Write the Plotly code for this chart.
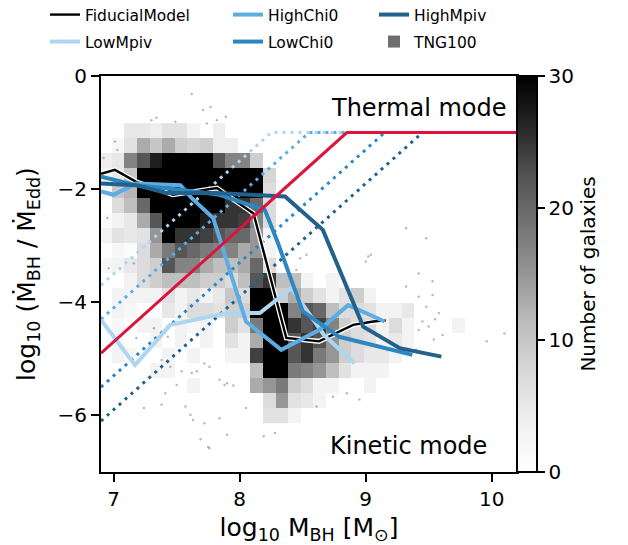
import plotly.graph_objects as go

# ---------------- data ----------------
hist_x = [round(6.935 + 0.1 * j, 3) for j in range(30)]
hist_y = [round(-0.9675 - 0.265 * r, 4) for r in range(20)]
hist_rows = [
    {2: 5, 3: 5, 4: 4, 5: 6, 6: 6, 7: 3, 9: 4},
    {1: 2, 2: 6, 3: 13, 4: 10, 5: 13, 6: 9, 7: 8, 8: 9, 9: 4, 10: 4},
    {0: 4, 1: 5, 2: 17, 3: 22, 4: 27, 5: 32, 6: 35, 7: 35, 8: 32, 9: 22, 10: 17, 11: 17, 12: 9},
    {0: 3, 1: 5, 2: 10, 3: 32, 4: 35, 5: 35, 6: 35, 7: 35, 8: 35, 9: 35, 10: 35, 11: 35, 12: 35, 13: 8},
    {0: 2, 1: 10, 2: 12, 3: 32, 4: 35, 5: 35, 6: 35, 7: 35, 8: 35, 9: 35, 10: 35, 11: 35, 12: 35, 13: 7},
    {1: 7, 2: 11, 3: 20, 4: 35, 5: 35, 6: 35, 7: 35, 8: 35, 9: 35, 10: 25, 11: 25, 12: 20, 13: 7},
    {0: 1, 1: 3, 2: 5, 3: 13, 4: 22, 5: 35, 6: 35, 7: 35, 8: 27, 9: 25, 10: 25, 11: 24, 12: 17, 13: 7},
    {0: 3, 1: 6, 2: 5, 3: 6, 4: 15, 5: 32, 6: 25, 7: 25, 8: 24, 9: 22, 10: 20, 11: 20, 12: 15, 13: 3},
    {1: 2, 2: 1, 3: 7, 4: 13, 5: 18, 6: 22, 7: 20, 8: 18, 9: 17, 10: 17, 11: 13, 12: 15, 13: 3},
    {0: 2, 1: 3, 2: 5, 3: 7, 4: 9, 5: 22, 6: 17, 7: 17, 8: 13, 9: 11, 10: 11, 11: 13, 12: 20, 13: 7},
    {2: 3, 3: 7, 4: 9, 5: 11, 6: 11, 7: 11, 8: 9, 9: 9, 10: 7, 11: 11, 12: 22, 13: 25, 14: 11, 15: 11, 16: 3, 18: 3},
    {1: 3, 2: 3, 3: 3, 4: 3, 5: 6, 6: 3, 7: 5, 8: 3, 9: 5, 10: 10, 11: 7, 12: 32, 13: 32, 14: 9, 15: 13,
     16: 9, 17: 6, 18: 3, 19: 6, 20: 9, 21: 3},
    {1: 3, 2: 2, 5: 5, 6: 3, 7: 7, 8: 7, 9: 6, 10: 9, 11: 9, 12: 32, 13: 35, 14: 35, 15: 17, 16: 22,
     17: 20, 18: 11, 19: 7, 20: 7, 21: 6, 22: 3, 23: 3, 24: 5},
    {1: 2, 3: 3, 4: 3, 6: 3, 7: 2, 8: 3, 10: 9, 11: 6, 12: 18, 13: 35, 14: 35, 15: 25, 16: 22, 17: 24,
     18: 17, 19: 9, 20: 7, 21: 7, 22: 3, 23: 7, 24: 3, 28: 3},
    {1: 2, 4: 3, 6: 3, 8: 3, 10: 6, 11: 3, 12: 13, 13: 35, 14: 35, 15: 22, 16: 25, 17: 22, 18: 15,
     19: 9, 20: 7, 21: 6, 22: 3, 23: 5, 24: 3},
    {1: 3, 2: 2, 5: 3, 7: 3, 10: 3, 11: 3, 12: 24, 13: 35, 14: 35, 15: 22, 16: 25, 17: 18, 18: 15,
     19: 9, 20: 7, 21: 5, 22: 5, 23: 3},
    {4: 3, 5: 3, 12: 11, 13: 35, 14: 35, 15: 18, 16: 17, 17: 15, 18: 11, 19: 6, 20: 3, 21: 3, 22: 3},
    {7: 3, 12: 13, 13: 15, 14: 18, 15: 9, 16: 7, 17: 3, 18: 3, 21: 3},
    {13: 7, 14: 15, 15: 6, 16: 5, 17: 3},
    {13: 6, 14: 6, 15: 3},
]

dots_x = [7.62, 7.71, 7.77, 7.30, 7.34, 7.49, 7.74, 7.82, 7.89, 7.01, 7.03, 6.92, 9.02, 9.00, 9.04,
          9.42, 9.53, 9.32, 9.42, 9.53, 9.48, 9.58, 9.45, 9.50, 9.42, 9.54, 7.90, 8.74, 8.85, 8.95,
          8.61, 8.19, 8.28, 6.96, 7.16, 7.32, 7.18, 7.38, 7.43, 7.45, 7.54, 7.62, 7.66, 7.76, 7.72,
          7.84, 7.88, 7.95, 7.50, 7.41, 7.38, 7.57, 7.61, 7.24, 7.63, 7.72, 7.69, 7.75, 7.90, 7.84,
          10.10, 9.96, 9.61, 7.76, 8.05, 9.32, 9.48, 8.48, 8.53, 8.45, 6.95, 9.40, 9.55]
dots_y = [-0.32, -0.60, -0.55, -0.78, -0.74, -0.81, -0.84, -0.78, -0.72, -1.16, -1.31, -1.45, -3.19,
          -3.28, -3.16, -3.49, -3.63, -3.72, -3.90, -3.87, -4.08, -4.19, -4.34, -4.43, -4.49, -4.66,
          -5.43, -5.67, -5.61, -5.72, -5.84, -6.37, -6.31, -3.40, -3.31, -4.46, -4.63, -5.02, -4.61,
          -5.14, -5.22, -5.25, -5.22, -5.14, -5.08, -5.37, -5.46, -5.47, -5.46, -5.61, -5.81, -5.84,
          -5.99, -5.87, -6.08, -6.14, -6.42, -6.56, -6.34, -6.05, -4.55, -4.69, -4.58, -6.58, -5.87,
          -2.69, -2.87, -3.22, -3.16, -3.43, -2.51, -4.84, -4.30]

fid_x = [6.90, 7.01, 7.18, 7.47, 7.82, 8.11, 8.37, 8.63, 8.90, 9.06, 9.16]
fid_y = [-1.73, -1.66, -1.87, -2.10, -1.98, -2.43, -4.63, -4.69, -4.40, -4.34, -4.32]
lowmpiv_x = [6.90, 7.17, 7.45, 7.90, 8.16, 8.41, 8.67, 8.91]
lowmpiv_y = [-4.31, -5.11, -4.40, -4.19, -4.19, -3.75, -4.58, -5.08]
highchi0_x = [6.90, 7.00, 7.18, 7.53, 7.62, 7.79, 8.05, 8.33, 8.63, 8.86, 9.15]
highchi0_y = [-2.04, -2.10, -1.90, -1.93, -2.16, -2.51, -4.34, -4.84, -4.49, -4.05, -4.34]
lowchi0_x = [6.90, 7.18, 7.53, 7.84, 8.20, 8.30, 8.50, 8.79, 9.37]
lowchi0_y = [-1.78, -1.93, -2.01, -2.10, -2.37, -2.93, -4.16, -4.61, -4.93]
highmpiv_x = [6.90, 7.18, 7.42, 7.82, 8.36, 8.66, 8.98, 9.27, 9.60]
highmpiv_y = [-1.90, -1.93, -2.07, -2.07, -2.13, -2.72, -4.43, -4.81, -4.96]

thr_tng_x = [6.9, 8.85, 10.2]
thr_tng_y = [-4.9, -1.0, -1.0]
thr_lowmpiv_x = [6.9, 8.25, 10.2]
thr_lowmpiv_y = [-3.7, -1.0, -1.0]
thr_highchi0_x = [6.9, 8.55, 10.2]
thr_highchi0_y = [-4.3, -1.0, -1.0]
thr_lowchi0_x = [6.9, 9.15, 10.2]
thr_lowchi0_y = [-5.5, -1.0, -1.0]
thr_highmpiv_x = [6.9, 9.45, 10.2]
thr_highmpiv_y = [-6.1, -1.0, -1.0]

x_ticks = [7, 8, 9, 10]
y_ticks = [0, -2, -4, -6]
cbar_ticks = [0, 10, 20, 30]

# ---------------- styles ----------------
C_LOWMPIV = "#AED6F1"
C_HIGHCHI0 = "#5DADE2"
C_LOWCHI0 = "#2E86C1"
C_HIGHMPIV = "#21618C"
C_RED = "#DC143C"
FONT = "DejaVu Sans"

greys = [[0.0, "#ffffff"], [0.125, "#f0f0f0"], [0.25, "#d9d9d9"], [0.375, "#bdbdbd"],
         [0.5, "#969696"], [0.625, "#737373"], [0.75, "#525252"], [0.875, "#252525"],
         [1.0, "#000000"]]

z = [[row.get(j) for j in range(len(hist_x))] for row in hist_rows]

fig = go.Figure()
fig.add_trace(go.Heatmap(
    x=hist_x, y=hist_y, z=z, zmin=0, zmax=30, colorscale=greys,
    showscale=True, showlegend=False,
    colorbar=dict(
        x=1.0, xanchor="left", xpad=0, y=0.5, yanchor="middle", ypad=0,
        len=1.0, thickness=20, outlinewidth=2, outlinecolor="black",
        tickvals=cbar_ticks, ticks="outside", ticklen=7, tickwidth=1.5, tickcolor="black",
        tickfont=dict(family=FONT, size=20, color="black"),
        title=dict(text="Number of galaxies", side="right",
                   font=dict(family=FONT, size=20, color="black")),
    ),
))
fig.add_trace(go.Scatter(x=dots_x, y=dots_y, mode="markers",
                         marker=dict(size=2.5, color="rgba(120,120,120,0.5)"),
                         showlegend=False, hoverinfo="skip"))

for tx, ty, col in [(thr_lowmpiv_x, thr_lowmpiv_y, C_LOWMPIV),
                    (thr_highchi0_x, thr_highchi0_y, C_HIGHCHI0),
                    (thr_lowchi0_x, thr_lowchi0_y, C_LOWCHI0),
                    (thr_highmpiv_x, thr_highmpiv_y, C_HIGHMPIV)]:
    fig.add_trace(go.Scatter(x=tx, y=ty, mode="lines", showlegend=False, hoverinfo="skip",
                             line=dict(color=col, width=3, dash="3px,5px")))

fig.add_trace(go.Scatter(x=fid_x, y=fid_y, mode="lines", showlegend=False, hoverinfo="skip",
                         line=dict(color="white", width=5)))
fig.add_trace(go.Scatter(x=fid_x, y=fid_y, mode="lines", name="FiducialModel", showlegend=True,
                         line=dict(color="black", width=2.4), legend="legend"))
fig.add_trace(go.Scatter(x=lowmpiv_x, y=lowmpiv_y, mode="lines", name="LowMpiv", showlegend=True,
                         line=dict(color=C_LOWMPIV, width=4), legend="legend2"))
fig.add_trace(go.Scatter(x=highchi0_x, y=highchi0_y, mode="lines", name="HighChi0", showlegend=True,
                         line=dict(color=C_HIGHCHI0, width=4), legend="legend3"))
fig.add_trace(go.Scatter(x=lowchi0_x, y=lowchi0_y, mode="lines", name="LowChi0", showlegend=True,
                         line=dict(color=C_LOWCHI0, width=4), legend="legend4"))
fig.add_trace(go.Scatter(x=highmpiv_x, y=highmpiv_y, mode="lines", name="HighMpiv", showlegend=True,
                         line=dict(color=C_HIGHMPIV, width=4), legend="legend5"))
fig.add_trace(go.Scatter(x=[None], y=[None], mode="markers", name="TNG100", showlegend=True,
                         marker=dict(symbol="square", size=12, color="#6e6e6e"),
                         legend="legend6"))
fig.add_trace(go.Scatter(x=thr_tng_x, y=thr_tng_y, mode="lines", showlegend=False,
                         hoverinfo="skip", line=dict(color=C_RED, width=3)))

W, H = 628, 545
ML, MR, MT, MB = 101, 111, 76, 73
PW, PH = W - ML - MR, H - MT - MB

def leg(px_left, py_center):
    return dict(x=(px_left - ML) / PW, y=1 + (MT - py_center) / PH, xref="paper", yref="paper",
                xanchor="left", yanchor="middle", bgcolor="rgba(0,0,0,0)", borderwidth=0,
                font=dict(family=FONT, size=15.5, color="black"))

fig.update_layout(
    width=W, height=H, showlegend=True,
    margin=dict(l=ML, r=MR, t=MT, b=MB, autoexpand=False),
    paper_bgcolor="white", plot_bgcolor="white",
    font=dict(family=FONT, color="black"),
    legend=leg(45, 15), legend2=leg(45, 42),
    legend3=leg(228, 15), legend4=leg(228, 42),
    legend5=leg(374, 15), legend6=leg(374, 42),
    xaxis=dict(range=[6.9, 10.2], tickvals=x_ticks, showgrid=False, zeroline=False,
               showline=True, linewidth=2, linecolor="black", mirror=True, automargin=False,
               ticks="outside", ticklen=8, tickwidth=2, tickcolor="black",
               tickfont=dict(family=FONT, size=20),
               title=dict(text="log<sub>10</sub> M<sub>BH</sub> [M<sub>⊙</sub>]",
                          font=dict(family=FONT, size=25))),
    yaxis=dict(range=[-7, 0], tickvals=y_ticks, showgrid=False, zeroline=False,
               showline=True, linewidth=2, linecolor="black", mirror=True, automargin=False,
               ticks="outside", ticklen=8, tickwidth=2, tickcolor="black",
               tickfont=dict(family=FONT, size=20),
               title=dict(text="log<sub>10</sub> (Ṁ<sub>BH</sub> / Ṁ<sub>Edd</sub>)",
                          font=dict(family=FONT, size=25))),
    annotations=[
        dict(text="Thermal mode", x=10.14, y=-0.57, xref="x", yref="y", xanchor="right",
             yanchor="middle", showarrow=False, font=dict(family=FONT, size=24, color="black")),
        dict(text="Kinetic mode", x=9.98, y=-6.54, xref="x", yref="y", xanchor="right",
             yanchor="middle", showarrow=False, font=dict(family=FONT, size=24, color="black")),
    ],
)

fig.write_html("out.html")
